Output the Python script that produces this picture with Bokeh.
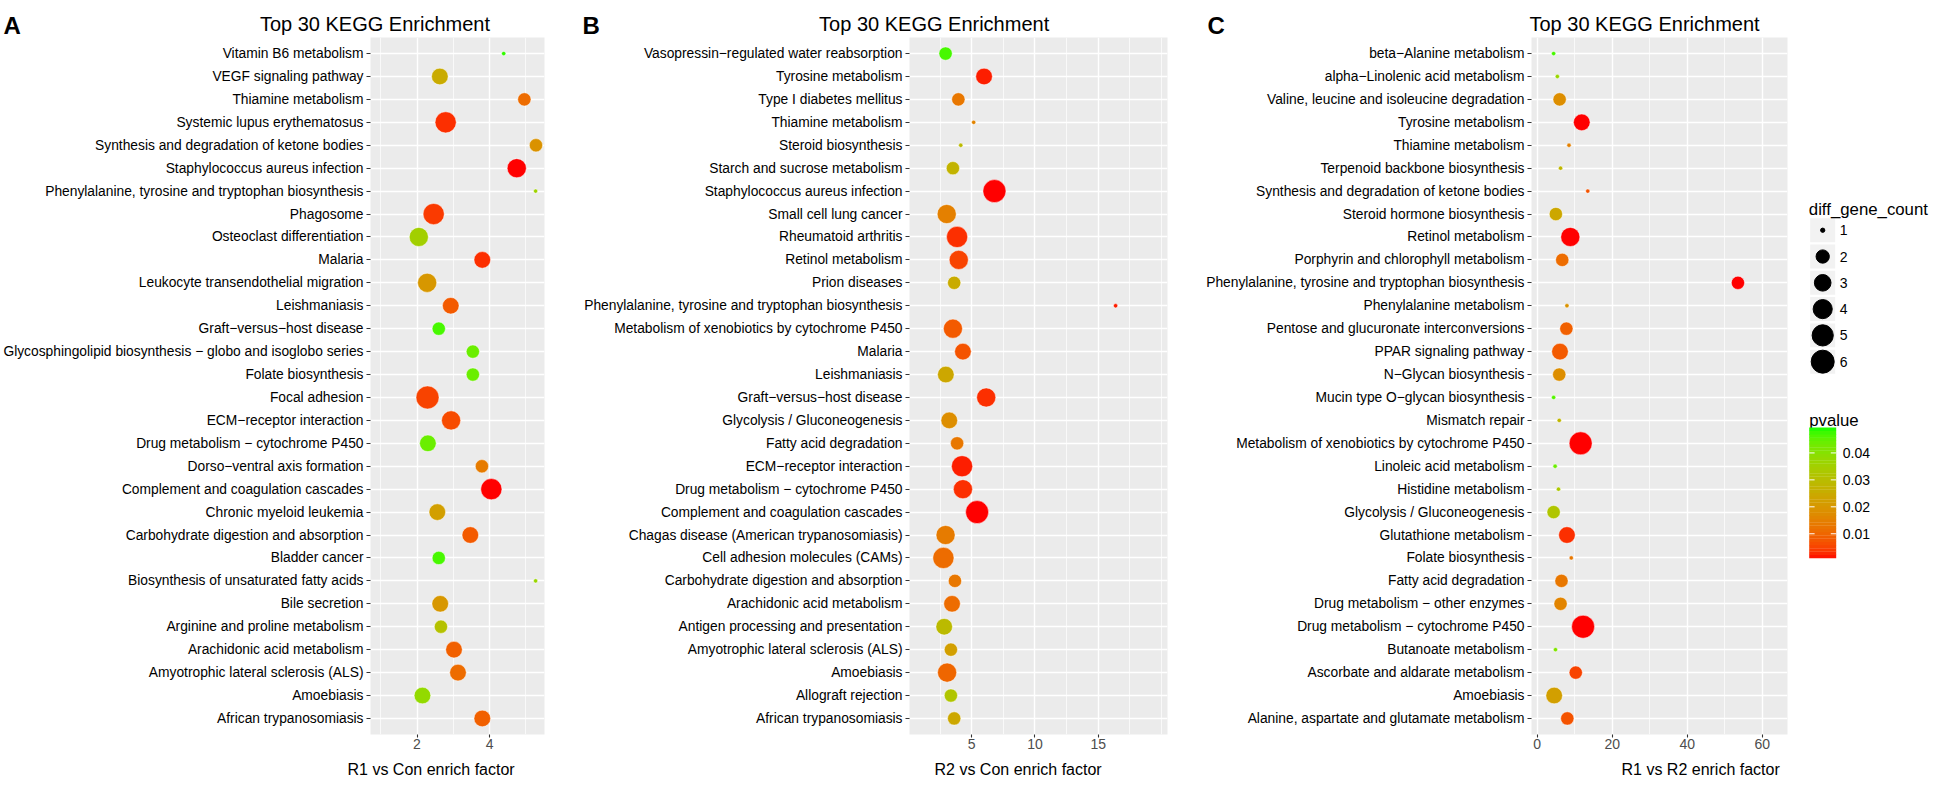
import numpy as np
from bokeh.plotting import figure
from bokeh.models import (ColumnDataSource, FactorRange, Range1d, FixedTicker,
                          LinearColorMapper)
from bokeh.layouts import row, column
from bokeh.transform import transform
from bokeh.core.properties import value
from bokeh.embed import file_html
from bokeh.resources import INLINE

M = "\u2212"
FONT = "Liberation Sans"

# ---------------- data (rows listed top to bottom as drawn) ----------------
a_terms = ["Vitamin B6 metabolism", "VEGF signaling pathway", "Thiamine metabolism",
           "Systemic lupus erythematosus", "Synthesis and degradation of ketone bodies",
           "Staphylococcus aureus infection", "Phenylalanine, tyrosine and tryptophan biosynthesis",
           "Phagosome", "Osteoclast differentiation", "Malaria",
           "Leukocyte transendothelial migration", "Leishmaniasis",
           f"Graft{M}versus{M}host disease",
           f"Glycosphingolipid biosynthesis {M} globo and isoglobo series",
           "Folate biosynthesis", "Focal adhesion", f"ECM{M}receptor interaction",
           f"Drug metabolism {M} cytochrome P450", f"Dorso{M}ventral axis formation",
           "Complement and coagulation cascades", "Chronic myeloid leukemia",
           "Carbohydrate digestion and absorption", "Bladder cancer",
           "Biosynthesis of unsaturated fatty acids", "Bile secretion",
           "Arginine and proline metabolism", "Arachidonic acid metabolism",
           "Amyotrophic lateral sclerosis (ALS)", "Amoebiasis", "African trypanosomiasis"]
a_factor = [4.39, 2.63, 4.96, 2.79, 5.28, 4.75, 5.27, 2.46, 2.05, 3.80,
            2.28, 2.93, 2.60, 3.54, 3.54, 2.29, 2.94, 2.30, 3.79, 4.05,
            2.56, 3.47, 2.60, 5.27, 2.64, 2.66, 3.02, 3.13, 2.15, 3.80]
a_count = [1, 3, 2, 5, 2, 4, 1, 5, 4, 3, 4, 3, 2, 2, 2, 6, 4, 3, 2, 5,
           3, 3, 2, 1, 3, 2, 3, 3, 3, 3]
a_pvalue = [0.048, 0.025, 0.011, 0.003, 0.019, 0.001, 0.036, 0.004, 0.035, 0.003,
            0.020, 0.008, 0.047, 0.044, 0.044, 0.005, 0.006, 0.044, 0.014, 0.001,
            0.022, 0.008, 0.047, 0.037, 0.020, 0.031, 0.009, 0.011, 0.038, 0.009]

b_terms = [f"Vasopressin{M}regulated water reabsorption", "Tyrosine metabolism",
           "Type I diabetes mellitus", "Thiamine metabolism", "Steroid biosynthesis",
           "Starch and sucrose metabolism", "Staphylococcus aureus infection",
           "Small cell lung cancer", "Rheumatoid arthritis", "Retinol metabolism",
           "Prion diseases", "Phenylalanine, tyrosine and tryptophan biosynthesis",
           "Metabolism of xenobiotics by cytochrome P450", "Malaria", "Leishmaniasis",
           f"Graft{M}versus{M}host disease", "Glycolysis / Gluconeogenesis",
           "Fatty acid degradation", f"ECM{M}receptor interaction",
           f"Drug metabolism {M} cytochrome P450", "Complement and coagulation cascades",
           "Chagas disease (American trypanosomiasis)", "Cell adhesion molecules (CAMs)",
           "Carbohydrate digestion and absorption", "Arachidonic acid metabolism",
           "Antigen processing and presentation", "Amyotrophic lateral sclerosis (ALS)",
           "Amoebiasis", "Allograft rejection", "African trypanosomiasis"]
b_factor = [2.94, 5.98, 3.95, 5.16, 4.14, 3.52, 6.80, 3.03, 3.85, 3.98,
            3.62, 16.37, 3.52, 4.31, 2.96, 6.15, 3.23, 3.85, 4.24, 4.31,
            5.43, 2.94, 2.77, 3.68, 3.45, 2.83, 3.36, 3.06, 3.36, 3.62]
b_count = [2, 3, 2, 1, 1, 2, 6, 4, 5, 4, 2, 1, 4, 3, 3, 4, 3, 2, 5, 4,
           6, 4, 5, 2, 3, 3, 2, 4, 2, 2]
b_pvalue = [0.047, 0.002, 0.013, 0.016, 0.029, 0.027, 0.001, 0.015, 0.003, 0.005,
            0.025, 0.002, 0.008, 0.007, 0.024, 0.003, 0.018, 0.013, 0.002, 0.003,
            0.001, 0.014, 0.011, 0.013, 0.011, 0.029, 0.022, 0.010, 0.032, 0.024]

c_terms = [f"beta{M}Alanine metabolism", f"alpha{M}Linolenic acid metabolism",
           "Valine, leucine and isoleucine degradation", "Tyrosine metabolism",
           "Thiamine metabolism", "Terpenoid backbone biosynthesis",
           "Synthesis and degradation of ketone bodies", "Steroid hormone biosynthesis",
           "Retinol metabolism", "Porphyrin and chlorophyll metabolism",
           "Phenylalanine, tyrosine and tryptophan biosynthesis", "Phenylalanine metabolism",
           "Pentose and glucuronate interconversions", "PPAR signaling pathway",
           f"N{M}Glycan biosynthesis", f"Mucin type O{M}glycan biosynthesis",
           "Mismatch repair", "Metabolism of xenobiotics by cytochrome P450",
           "Linoleic acid metabolism", "Histidine metabolism",
           "Glycolysis / Gluconeogenesis", "Glutathione metabolism", "Folate biosynthesis",
           "Fatty acid degradation", f"Drug metabolism {M} other enzymes",
           f"Drug metabolism {M} cytochrome P450", "Butanoate metabolism",
           "Ascorbate and aldarate metabolism", "Amoebiasis",
           "Alanine, aspartate and glutamate metabolism"]
c_factor = [4.4, 5.4, 6.0, 11.9, 8.5, 6.25, 13.5, 5.0, 8.85, 6.7,
            53.5, 7.95, 7.8, 6.1, 5.9, 4.4, 5.9, 11.6, 4.8, 5.7,
            4.4, 7.95, 9.1, 6.5, 6.25, 12.25, 4.9, 10.3, 4.55, 8.05]
c_count = [1, 1, 2, 3, 1, 1, 1, 2, 4, 2, 2, 1, 2, 3, 2, 1, 1, 6, 1, 1,
           2, 3, 1, 2, 2, 6, 1, 2, 3, 2]
c_pvalue = [0.047, 0.037, 0.018, 0.001, 0.015, 0.028, 0.007, 0.024, 0.001, 0.011,
            0.001, 0.019, 0.009, 0.008, 0.018, 0.046, 0.028, 0.001, 0.044, 0.033,
            0.032, 0.003, 0.013, 0.013, 0.016, 0.001, 0.041, 0.005, 0.022, 0.007]

panel_letters = ["A", "B", "C"]
panel_titles = ["Top 30 KEGG Enrichment"] * 3
x_titles = ["R1 vs Con enrich factor", "R2 vs Con enrich factor", "R1 vs R2 enrich factor"]
legend_counts = [1, 2, 3, 4, 5, 6]
pvalue_ticks = [0.01, 0.02, 0.03, 0.04]
pvalue_low, pvalue_high = 0.0009, 0.0493

# ---------------- colour ramp red -> green interpolated in CIELAB ----------------
_M = np.array([[0.4124564, 0.3575761, 0.1804375],
               [0.2126729, 0.7151522, 0.0721750],
               [0.0193339, 0.1191920, 0.9503041]])
_W = np.array([0.95047, 1.0, 1.08883])


def _lin(c):
    c = np.asarray(c, float) / 255.0
    return np.where(c <= 0.04045, c / 12.92, ((c + 0.055) / 1.055) ** 2.4)


def _f(t):
    d = 6 / 29
    return np.where(t > d ** 3, np.cbrt(t), t / (3 * d * d) + 4 / 29)


def _finv(t):
    d = 6 / 29
    return np.where(t > d, t ** 3, 3 * d * d * (t - 4 / 29))


def rgb_to_lab(rgb):
    xyz = (_M @ _lin(rgb)) / _W
    fx, fy, fz = _f(xyz)
    return np.array([116 * fy - 16, 500 * (fx - fy), 200 * (fy - fz)])


def lab_to_hex(lab):
    L, a, b = lab
    fy = (L + 16) / 116
    xyz = np.array([_finv(fy + a / 500), _finv(fy), _finv(fy - b / 200)]) * _W
    lin = np.clip(np.linalg.inv(_M) @ xyz, 0, 1)
    s = np.where(lin <= 0.0031308, 12.92 * lin, 1.055 * lin ** (1 / 2.4) - 0.055)
    s = np.clip(s, 0, 1)
    return "#%02x%02x%02x" % tuple(int(round(v * 255)) for v in s)


lab_lo = rgb_to_lab([255, 0, 0])
lab_hi = rgb_to_lab([0, 255, 0])
palette = [lab_to_hex(lab_lo + (lab_hi - lab_lo) * t) for t in np.linspace(0, 1, 256)]
mapper = LinearColorMapper(palette=palette, low=pvalue_low, high=pvalue_high)


def dot_size(n):
    return 4.3 + 18.7 * ((n - 1) / 5.0) ** 0.455


# ---------------- page geometry (page pixel coordinates) ----------------
PAGE_L, PAGE_R = 8, 1938
HEAD_T, FRAME_T, FRAME_B, FOOT_T, PAGE_B = 8, 45, 742, 761, 785
MAIN_H = FOOT_T - FRAME_T


def blank(width, height, x0, x1, ytop, ybottom):
    p = figure(width=width, height=height, output_backend="svg", toolbar_location=None,
               x_range=Range1d(x0, x1), y_range=Range1d(ybottom, ytop),
               min_border=0, x_axis_location=None, y_axis_location=None, title=None)
    p.grid.visible = False
    p.outline_line_color = None
    p.background_fill_color = "white"
    p.border_fill_color = "white"
    return p


def make_panel(terms, factor, count, pvalue, width, left, right, xr, ticks, minor):
    src = ColumnDataSource(dict(term=terms, factor=factor, count=count, pvalue=pvalue,
                                size=[dot_size(c) for c in count]))
    p = figure(width=width, height=MAIN_H, output_backend="svg", toolbar_location=None,
               title=None, x_range=Range1d(*xr),
               y_range=FactorRange(factors=terms[::-1], range_padding=0.2,
                                   range_padding_units="absolute"),
               min_border_left=left, min_border_right=right,
               min_border_top=0, min_border_bottom=FOOT_T - FRAME_B)
    p.background_fill_color = "#EBEBEB"
    p.border_fill_color = "white"
    p.outline_line_color = None

    p.xaxis.ticker = FixedTicker(ticks=ticks, minor_ticks=minor)
    p.xgrid.grid_line_color = "white"
    p.xgrid.grid_line_width = 1.4
    p.xgrid.minor_grid_line_color = "white"
    p.xgrid.minor_grid_line_width = 0.7
    p.ygrid.grid_line_color = "white"
    p.ygrid.grid_line_width = 1.4

    for ax in (p.xaxis, p.yaxis):
        ax.axis_line_color = None
        ax.major_tick_line_color = "#333333"
        ax.major_tick_line_width = 1.1
        ax.major_tick_in = 0
        ax.minor_tick_line_color = None
        ax.major_label_text_font = FONT
    p.yaxis.major_tick_out = 4
    p.yaxis.major_label_text_font_size = "13.8px"
    p.yaxis.major_label_text_color = "black"
    p.yaxis.major_label_standoff = 3
    p.xaxis.major_tick_out = 3
    p.xaxis.major_label_text_font_size = "14px"
    p.xaxis.major_label_text_color = "#4D4D4D"
    p.xaxis.major_label_standoff = 0

    p.scatter("factor", "term", source=src, size="size",
              fill_color=transform("pvalue", mapper), line_color="white",
              line_width=0.6, line_alpha=0.8)
    return p


pA = make_panel(a_terms, a_factor, a_count, a_pvalue, 570, 367, 26,
                (0.718, 5.515), [2, 4], [1, 3, 5])
pB = make_panel(b_terms, b_factor, b_count, b_pvalue, 612, 339, 15,
                (0.09, 20.47), [5, 10, 15], [2.5, 7.5, 12.5, 17.5, 20])
pC = make_panel(c_terms, c_factor, c_count, c_pvalue, 610, 349, 5,
                (-1.49, 66.7), [0, 20, 40, 60], [10, 30, 50])

# ---------------- header: panel letters and titles ----------------
head = blank(PAGE_R - PAGE_L, FRAME_T - HEAD_T, PAGE_L, PAGE_R, HEAD_T, FRAME_T)
head.text(x=[11, 590, 1215], y=[32.5, 32.5, 32.5], text=panel_letters,
          text_font=value(FONT), text_font_size="24px", text_font_style="bold",
          text_color="black", text_baseline="alphabetic", text_align="left")
head.text(x=[267.4, 826.6, 1537], y=[31.5, 31.5, 31.5], text=panel_titles,
          text_font=value(FONT), text_font_size="20px",
          text_color="black", text_baseline="alphabetic", text_align="left")

# ---------------- footer: x-axis titles ----------------
foot = blank(PAGE_R - PAGE_L, PAGE_B - FOOT_T, PAGE_L, PAGE_R, FOOT_T, PAGE_B)
foot.text(x=[355, 942, 1629], y=[777, 777, 777], text=x_titles,
          text_font=value(FONT), text_font_size="16px",
          text_color="black", text_baseline="alphabetic", text_align="left")

# ---------------- legend area ----------------
LX0 = 1800
pL = blank(PAGE_R - LX0, MAIN_H, LX0, PAGE_R, FRAME_T, FOOT_T)
key_x = 1830.2
key_y = [243 + 27 * i for i in range(len(legend_counts))]
lsrc = ColumnDataSource(dict(x=[key_x] * len(legend_counts), y=key_y,
                             size=[dot_size(c) for c in legend_counts],
                             label=[str(c) for c in legend_counts],
                             lx=[1847.3] * len(legend_counts)))
pL.rect("x", "y", width=25, height=24.6, source=lsrc, fill_color="#F2F2F2", line_color=None)
pL.scatter("x", "y", size="size", source=lsrc, fill_color="black", line_color="black")
pL.text("lx", "y", text="label", source=lsrc, text_font=value(FONT), text_font_size="14px",
        text_baseline="middle", text_align="left", text_color="black")
pL.text(x=[1816.3, 1816.7], y=[222, 438], text=["diff_gene_count", "pvalue"],
        text_font=value(FONT), text_font_size="16.8px", text_color="black",
        text_baseline="alphabetic", text_align="left")

# colour bar: a p-value axis (extra range) whose span puts low..high on page y 580..446
BAR_TOP, BAR_BOT, BAR_L, BAR_W = 446, 580, 1816.7, 27
per_px = (pvalue_high - pvalue_low) / (BAR_BOT - BAR_TOP)
pL.extra_y_ranges = {"pv": Range1d(pvalue_low - (FOOT_T - BAR_BOT) * per_px,
                                   pvalue_low + (BAR_BOT - FRAME_T) * per_px)}
nbin = 40
edges = np.linspace(pvalue_low, pvalue_high, nbin + 1)
bsrc = ColumnDataSource(dict(bottom=edges[:-1], top=edges[1:] + per_px * 0.3,
                             mid=(edges[:-1] + edges[1:]) / 2))
pL.quad(left=BAR_L, right=BAR_L + BAR_W, bottom="bottom", top="top", source=bsrc,
        fill_color=transform("mid", mapper), line_color=None, y_range_name="pv")
tsrc = ColumnDataSource(dict(v=pvalue_ticks, lab=["%.2f" % t for t in pvalue_ticks]))
pL.segment(x0=BAR_L, x1=BAR_L + 5.4, y0="v", y1="v", source=tsrc, line_color="white",
           line_width=1, y_range_name="pv")
pL.segment(x0=BAR_L + BAR_W - 5.4, x1=BAR_L + BAR_W, y0="v", y1="v", source=tsrc,
           line_color="white", line_width=1, y_range_name="pv")
pL.text(x=BAR_L + BAR_W + 6.6, y="v", text="lab", source=tsrc, text_font=value(FONT),
        text_font_size="14px", text_color="black", text_baseline="middle",
        text_align="left", y_range_name="pv")

layout = column(head, row(pA, pB, pC, pL), foot)
open("out.html", "w").write(file_html(layout, INLINE))
